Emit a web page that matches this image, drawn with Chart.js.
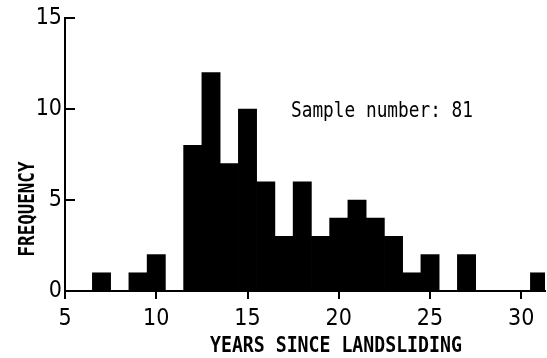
<!DOCTYPE html>
<html>
<head>
<meta charset="utf-8">
<script src="https://cdn.jsdelivr.net/npm/chart.js@4.4.1/dist/chart.umd.min.js"></script>
<style>
  html, body { margin: 0; padding: 0; background: #fff; }
  #wrap { width: 547px; height: 358px; }
</style>
</head>
<body>
<div id="wrap"><canvas id="hist"></canvas></div>
<script>
const years = [7, 9, 10, 12, 13, 14, 15, 16, 17, 18, 19, 20, 21, 22, 23, 24, 25, 27, 31];
const frequency = [1, 1, 2, 8, 12, 7, 10, 6, 3, 6, 3, 4, 5, 4, 3, 1, 2, 2, 1];
const xTicks = [5, 10, 15, 20, 25, 30];
const yTicks = [0, 5, 10, 15];
const sampleNote = 'Sample number: 81';
const xTitle = 'YEARS SINCE LANDSLIDING';
const yTitle = 'FREQUENCY';

const tickFont = { family: "'DejaVu Sans Condensed', sans-serif", size: 23 };

// stretched mono text, the original lettering is taller than any installed mono font
function drawTall(ctx, text, x, y, font, sy, angle, align) {
  ctx.save();
  ctx.translate(x, y);
  if (angle) ctx.rotate(angle);
  ctx.scale(1, sy);
  ctx.font = font;
  ctx.fillStyle = '#000';
  ctx.textAlign = align || 'left';
  ctx.textBaseline = 'alphabetic';
  ctx.fillText(text, 0, 0);
  ctx.restore();
}

const labels = {
  id: 'labels',
  afterDraw(chart) {
    const ctx = chart.ctx;
    drawTall(ctx, sampleNote, 291, 117, "17.8px 'DejaVu Sans Mono', monospace", 1.15);
    drawTall(ctx, xTitle, 210, 352, "bold 18.2px 'DejaVu Sans Mono', monospace", 1.15);
    drawTall(ctx, yTitle, 34, 209, "bold 17.5px 'DejaVu Sans Mono', monospace", 1.2, -Math.PI / 2, 'center');
  }
};

new Chart(document.getElementById('hist'), {
  type: 'bar',
  data: {
    datasets: [
      {
        data: years.map((yr, i) => ({ x: yr, y: frequency[i] })),
        backgroundColor: '#000',
        borderWidth: 0,
        barPercentage: 1,
        categoryPercentage: 1,
      },
    ],
  },
  options: {
    responsive: true,
    maintainAspectRatio: false,
    animation: false,
    layout: { padding: { top: 18, right: 2, left: 0, bottom: 0 } },
    plugins: {
      legend: { display: false },
      tooltip: { enabled: false },
    },
    scales: {
      x: {
        type: 'linear',
        offset: false,
        min: 5,
        max: 31.3,
        afterBuildTicks: (scale) => {
          scale.ticks = xTicks.map((v) => ({ value: v }));
        },
        afterFit: (scale) => {
          scale.height = 67;
          scale.paddingLeft = 0;
          scale.paddingRight = 0;
        },
        grid: {
          display: true,
          offset: false,
          drawOnChartArea: false,
          drawTicks: true,
          tickLength: 8,
          color: '#000',
          lineWidth: 2,
        },
        border: { display: true, color: '#000', width: 2 },
        ticks: { color: '#000', font: tickFont, padding: 6, maxRotation: 0 },
      },
      y: {
        min: 0,
        max: 15,
        afterBuildTicks: (scale) => {
          scale.ticks = yTicks.map((v) => ({ value: v }));
        },
        afterFit: (scale) => {
          scale.width = 65;
          scale.paddingTop = 0;
          scale.paddingBottom = 0;
        },
        // negative tick length turns the marks inward, like the original
        grid: {
          display: true,
          drawOnChartArea: false,
          drawTicks: true,
          tickLength: -10,
          color: '#000',
          lineWidth: 2,
        },
        border: { display: true, color: '#000', width: 2 },
        ticks: { color: '#000', font: tickFont, padding: 13 },
      },
    },
  },
  plugins: [labels],
});
</script>
</body>
</html>
